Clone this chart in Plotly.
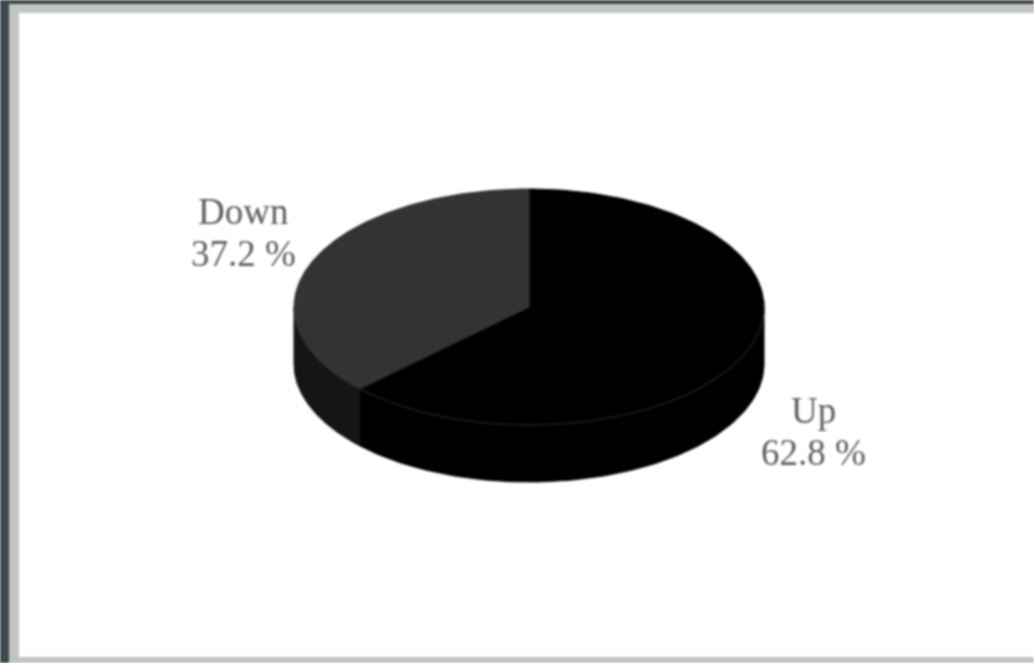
import numpy as np
import plotly.graph_objects as go

labels = ["Up", "Down"]
values = [62.8, 37.2]
top_colors = ["#000000", "#333333"]
side_colors = ["#000000", "#151515"]
label_pos = [(813, 410, 452), (243, 211, 253)]

CX, CY, RX, RY, DEPTH = 529, 307, 235, 118, 57


def pt(angle, dy=0):
    return CX + RX * np.sin(angle), CY - RY * np.cos(angle) + dy


fig = go.Figure()
# angle runs clockwise from 12 o'clock
start = 0.0
spans = []
for v in values:
    end = start + v / sum(values) * 2 * np.pi
    spans.append((start, end))
    start = end

# sides (only the front half of the ellipse is visible)
for (a, b), col in zip(spans, side_colors):
    lo, hi = max(a, np.pi / 2), min(b, 3 * np.pi / 2)
    if hi <= lo:
        continue
    t = np.linspace(lo, hi, 120)
    x1, y1 = pt(t)
    x2, y2 = pt(t[::-1], DEPTH)
    fig.add_trace(go.Scatter(x=np.r_[x1, x2, x1[0]], y=np.r_[y1, y2, y1[0]], mode="lines",
                             fill="toself", fillcolor=col, line=dict(color=col, width=1),
                             hoverinfo="skip", showlegend=False))
# tops
for (a, b), col in zip(spans, top_colors):
    t = np.linspace(a, b, 240)
    x, y = pt(t)
    fig.add_trace(go.Scatter(x=np.r_[CX, x, CX], y=np.r_[CY, y, CY], mode="lines",
                             fill="toself", fillcolor=col, line=dict(color=col, width=1),
                             hoverinfo="skip", showlegend=False))
# faint rim between top face and side of the dark slice
t = np.linspace(np.pi / 2 - 0.05, spans[0][1], 200)
x, y = pt(t)
fig.add_trace(go.Scatter(x=x, y=y, mode="lines", line=dict(color="#1e1e1e", width=1.5),
                         hoverinfo="skip", showlegend=False))

for lab, v, (lx, y1, y2) in zip(labels, values, label_pos):
    for txt, ly in ((lab, y1), (f"{v} %", y2)):
        fig.add_annotation(x=lx, y=ly, text=txt, showarrow=False, align="center",
                           font=dict(family="Liberation Serif", size=37, color="#5e5e5e"))

fig.update_layout(
    width=1034, height=663, margin=dict(l=0, r=0, t=0, b=0),
    paper_bgcolor="#3d484c", plot_bgcolor="rgba(0,0,0,0)", showlegend=False,
    xaxis=dict(range=[0, 1034], visible=False, fixedrange=True),
    yaxis=dict(range=[663, 0], visible=False, fixedrange=True),
    shapes=[
        dict(type="rect", xref="x", yref="y", x0=9, x1=1034, y0=4, y1=663, fillcolor="#c2c4c3", line_width=0, layer="below"),
        dict(type="rect", xref="x", yref="y", x0=19, x1=1034, y0=13, y1=657, fillcolor="#ffffff", line_width=0, layer="below"),
    ],
)
fig.write_html(
    "out.html",
    config={"displayModeBar": False},
    post_script="document.body.style.margin='0';document.body.style.overflow='hidden';"
                "document.querySelector('.plotly-graph-div').style.filter='blur(1.3px)';",
)
